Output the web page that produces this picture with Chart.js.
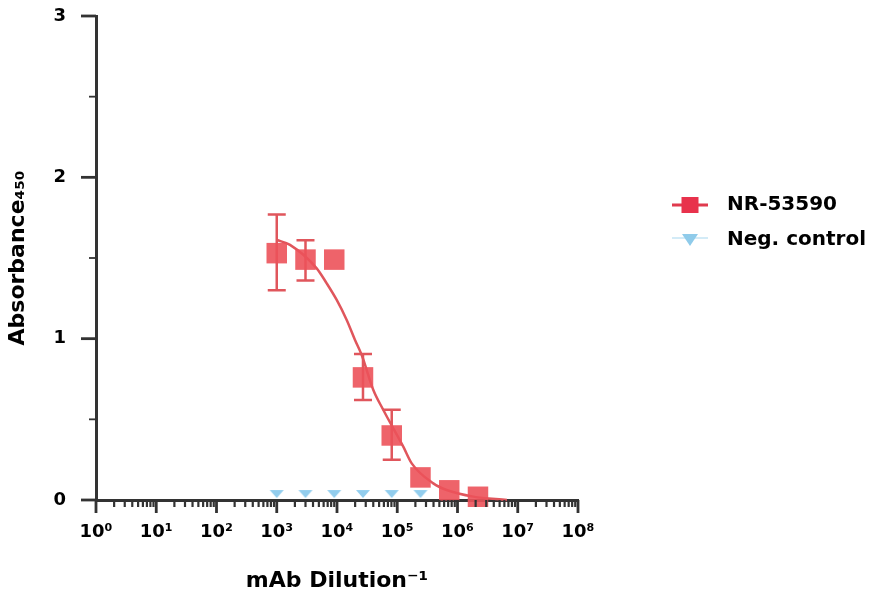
<!DOCTYPE html>
<html>
<head>
<meta charset="utf-8">
<script src="https://cdn.jsdelivr.net/npm/chart.js@4.4.1/dist/chart.umd.min.js"></script>
<style>
  html, body { margin: 0; padding: 0; background: #ffffff; }
  #c { display: block; }
</style>
</head>
<body>
<canvas id="c" width="869" height="590"></canvas>
<script>
// ---------- data ----------
const dilutions   = [1000, 3000, 9000, 27000, 81000, 243000, 729000, 2187000];
const nrMeans     = [1.53, 1.49, 1.49, 0.76, 0.40, 0.14, 0.06, 0.02];
const nrErrHigh   = [1.77, 1.61, null, 0.905, 0.56, null, null, null];
const nrErrLow    = [1.30, 1.36, null, 0.62, 0.25, null, null, null];

const negDilutions = [1000, 3000, 9000, 27000, 81000, 243000];
const negMeans     = [0.037, 0.037, 0.037, 0.037, 0.037, 0.037];

const fitX = [1000, 1660, 4600, 6750, 9890, 14490, 19900, 25700, 40100, 58750, 125900, 173800, 396300, 662200, 1828000, 6607000];
const fitY = [1.612, 1.581, 1.436, 1.343, 1.240, 1.116, 0.992, 0.899, 0.682, 0.558, 0.331, 0.227, 0.103, 0.062, 0.021, 0.0];

const xTickValues = [1, 10, 100, 1000, 10000, 100000, 1000000, 10000000, 100000000];
const xTickLabels = ['10⁰', '10¹', '10²', '10³', '10⁴', '10⁵', '10⁶', '10⁷', '10⁸'];
const yTickValues = [0, 1, 2, 3];
const yMinorTickValues = [0.5, 1.5, 2.5];

const seriesNames = ['NR-53590', 'Neg. control'];

// ---------- styles ----------
const FONT = "'DejaVu Sans', 'Liberation Sans', Arial, sans-serif";
const AXIS = '#333333';
const RED = 'rgba(236, 82, 90, 0.9)';
const RED_LINE = '#e0565c';

function makeIcon(kind) {
  const c = document.createElement('canvas');
  const g = c.getContext('2d');
  if (kind === 'legendSquare') {
    c.width = 40; c.height = 22;
    g.strokeStyle = '#e03a4e'; g.lineWidth = 3;
    g.beginPath(); g.moveTo(2, 11); g.lineTo(38, 11); g.stroke();
    g.fillStyle = '#e8324c';
    g.fillRect(11.5, 3, 17, 16);
  } else if (kind === 'legendTriangle') {
    c.width = 40; c.height = 22;
    g.strokeStyle = '#d3ebf7'; g.lineWidth = 2;
    g.beginPath(); g.moveTo(2, 9); g.lineTo(38, 9); g.stroke();
    g.fillStyle = '#8fcbea';
    g.beginPath(); g.moveTo(12, 5); g.lineTo(28, 5); g.lineTo(20, 17); g.closePath(); g.fill();
  } else {
    c.width = 16; c.height = 10;
    g.fillStyle = 'rgba(140, 202, 236, 0.95)';
    g.beginPath(); g.moveTo(1, 1); g.lineTo(15, 1); g.lineTo(8, 9); g.closePath(); g.fill();
  }
  return c;
}
const legendIcons = [makeIcon('legendSquare'), makeIcon('legendTriangle')];
const triangleMarker = makeIcon('triangle');

const errorBarPlugin = {
  id: 'errorBars',
  beforeDatasetDraw(chart, args) {
    if (args.index !== 0) return;
    const { ctx, scales: { x, y } } = chart;
    ctx.save();
    ctx.strokeStyle = RED_LINE;
    ctx.lineWidth = 2.5;
    dilutions.forEach((d, i) => {
      if (nrErrHigh[i] == null) return;
      const px = x.getPixelForValue(d);
      const top = y.getPixelForValue(nrErrHigh[i]);
      const bot = y.getPixelForValue(nrErrLow[i]);
      ctx.beginPath();
      ctx.moveTo(px, top); ctx.lineTo(px, bot);
      ctx.moveTo(px - 9, top); ctx.lineTo(px + 9, top);
      ctx.moveTo(px - 9, bot); ctx.lineTo(px + 9, bot);
      ctx.stroke();
    });
    ctx.restore();
  }
};

const tickPlugin = {
  id: 'axisTicks',
  afterDraw(chart) {
    const { ctx, scales: { x, y }, chartArea } = chart;
    ctx.save();
    ctx.strokeStyle = AXIS;
    const base = chartArea.bottom;
    const left = chartArea.left;
    // x major
    ctx.lineWidth = 2.8;
    xTickValues.forEach(v => {
      const px = x.getPixelForValue(v);
      ctx.beginPath(); ctx.moveTo(px, base); ctx.lineTo(px, base + 13); ctx.stroke();
    });
    // x minor
    ctx.lineWidth = 2.2;
    for (let k = 0; k < xTickValues.length - 1; k++) {
      for (let m = 2; m <= 9; m++) {
        const px = x.getPixelForValue(xTickValues[k] * m);
        ctx.beginPath(); ctx.moveTo(px, base); ctx.lineTo(px, base + 7); ctx.stroke();
      }
    }
    // y major
    ctx.lineWidth = 2.8;
    yTickValues.forEach(v => {
      const py = y.getPixelForValue(v);
      ctx.beginPath(); ctx.moveTo(left, py); ctx.lineTo(left - 15, py); ctx.stroke();
    });
    ctx.lineWidth = 1.8;
    yMinorTickValues.forEach(v => {
      const py = y.getPixelForValue(v);
      ctx.beginPath(); ctx.moveTo(left, py); ctx.lineTo(left - 7, py); ctx.stroke();
    });
    ctx.restore();
  }
};

new Chart(document.getElementById('c'), {
  type: 'scatter',
  data: {
    datasets: [
      {
        label: seriesNames[0],
        data: dilutions.map((d, i) => ({ x: d, y: nrMeans[i] })),
        pointStyle: 'rect',
        pointRadius: 14.5,
        pointHoverRadius: 14.5,
        backgroundColor: RED,
        borderColor: RED,
        borderWidth: 0,
        order: 0,
        clip: false
      },
      {
        label: seriesNames[1],
        data: negDilutions.map((d, i) => ({ x: d, y: negMeans[i] })),
        pointStyle: triangleMarker,
        pointRadius: 7,
        pointHoverRadius: 7,
        backgroundColor: 'rgba(140, 202, 236, 0.95)',
        borderColor: 'rgba(140, 202, 236, 0.95)',
        borderWidth: 0,
        order: 1,
        clip: false
      },
      {
        type: 'line',
        label: 'fit',
        data: fitX.map((v, i) => ({ x: v, y: fitY[i] })),
        borderColor: RED_LINE,
        borderWidth: 2.5,
        pointRadius: 0,
        pointHoverRadius: 0,
        showLine: true,
        fill: false,
        cubicInterpolationMode: 'monotone',
        order: 2,
        clip: false
      }
    ]
  },
  options: {
    responsive: false,
    animation: false,
    devicePixelRatio: 1,
    layout: { padding: { top: 16, left: 0, right: 0, bottom: 0 } },
    plugins: {
      tooltip: { enabled: false },
      legend: {
        position: 'right',
        align: 'start',
        maxWidth: 221,
        title: { display: true, text: ' ', font: { size: 10, lineHeight: 2 }, padding: { top: 144, bottom: 0 } },
        labels: {
          usePointStyle: true,
          pointStyleWidth: 54,
          padding: 15,
          color: '#000000',
          font: { family: FONT, size: 20, weight: 'bold' },
          filter: item => item.datasetIndex !== 2,
          generateLabels: chart => Chart.defaults.plugins.legend.labels.generateLabels(chart)
            .map(it => Object.assign({}, it, { pointStyle: legendIcons[it.datasetIndex], rotation: 0 }))
        }
      }
    },
    scales: {
      x: {
        type: 'logarithmic',
        position: 'bottom',
        min: 1,
        max: 100000000,
        afterBuildTicks: s => { s.ticks = xTickValues.map(v => ({ value: v })); },
        afterFit: s => { s.height = 90; },
        grid: { display: false, drawTicks: false },
        border: { display: true, color: AXIS, width: 3 },
        ticks: {
          autoSkip: false, maxRotation: 0, minRotation: 0, padding: 22,
          color: '#000000',
          font: { family: FONT, size: 18, weight: 'bold' },
          callback: v => { const i = xTickValues.indexOf(v); return i >= 0 ? xTickLabels[i] : ''; }
        },
        title: {
          display: true, text: 'mAb Dilution⁻¹', color: '#000000',
          font: { family: FONT, size: 22, weight: 'bold', lineHeight: 0.8 },
          padding: { top: 0, bottom: 0 }
        }
      },
      y: {
        type: 'linear',
        position: 'left',
        min: 0,
        max: 3,
        afterBuildTicks: s => { s.ticks = yTickValues.map(v => ({ value: v })); },
        afterFit: s => { s.width = 96; s.paddingTop = 0; s.paddingBottom = 0; },
        grid: { display: false, drawTicks: false },
        border: { display: true, color: AXIS, width: 3 },
        ticks: {
          padding: 30,
          color: '#000000',
          font: { family: FONT, size: 18, weight: 'bold' }
        },
        title: {
          display: true, text: 'Absorbance₄₅₀', color: '#000000',
          font: { family: FONT, size: 22, weight: 'bold' },
          padding: { top: 5, bottom: 0 }
        }
      },
      spacer: {
        type: 'linear',
        position: 'right',
        display: true,
        afterFit: s => { s.width = 70; s.paddingTop = 0; s.paddingBottom = 0; },
        grid: { display: false },
        border: { display: false },
        ticks: { display: false }
      }
    }
  },
  plugins: [errorBarPlugin, tickPlugin]
});
</script>
</body>
</html>
